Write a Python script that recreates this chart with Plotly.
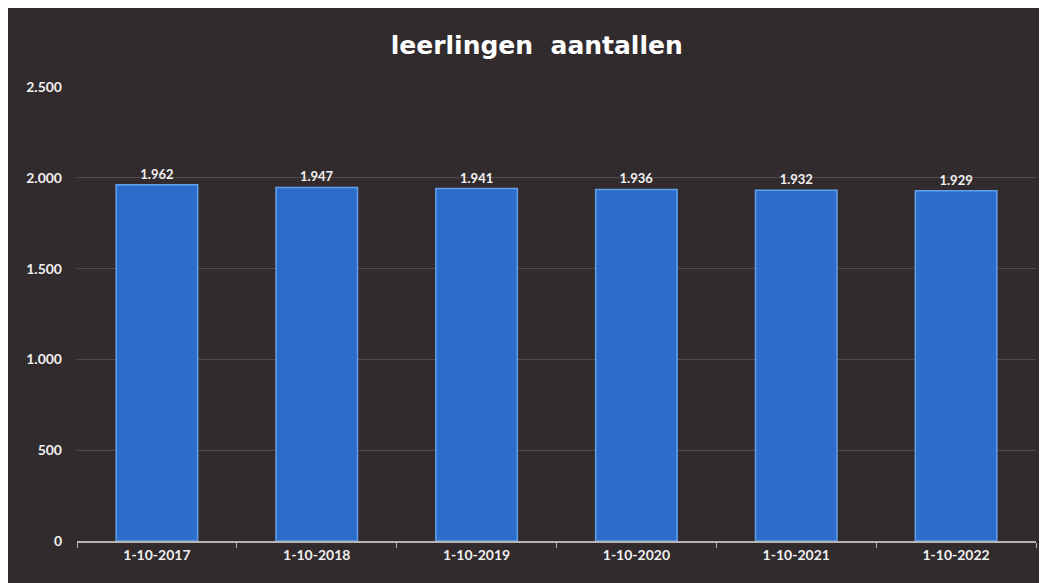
import plotly.graph_objects as go

# leerlingen per teldatum
dates = ['1-10-2017', '1-10-2018', '1-10-2019', '1-10-2020', '1-10-2021', '1-10-2022']
students = [1962, 1947, 1941, 1936, 1932, 1929]
y_ticks = [0, 500, 1000, 1500, 2000, 2500]
y_tick_labels = ['0', '500', '1.000', '1.500', '2.000', '2.500']
value_labels = ['1.962', '1.947', '1.941', '1.936', '1.932', '1.929']

# the page body adds an 8px offset, so margins are taken in figure pixels
W, H = 1047, 583
L, R, T, B = 69, 19, 79, 50

def px_x(p):
    return (p - L) / (W - L - R)

def px_y(p):
    return (H - B - p) / (H - T - B)

fig = go.Figure()

fig.add_trace(go.Bar(
    x=dates,
    y=students,
    text=value_labels,
    textposition='outside',
    textfont=dict(color='#f2f2f2', size=13, family='Lato', weight='bold'),
    cliponaxis=False,
    marker=dict(color='#2c6dcc', line=dict(color='#62a0ea', width=1.5)),
    width=0.51,
))

fig.update_layout(
    width=W, height=H,
    margin=dict(l=L, r=R, t=T, b=B),
    paper_bgcolor='white',
    plot_bgcolor='rgba(0,0,0,0)',
    showlegend=False,
    font=dict(family='Lato', color='#f0f0f0'),
    title=dict(
        text='<b>leerlingen  aantallen</b>',
        x=0.505, xanchor='center', y=1 - 37 / H, yanchor='middle',
        font=dict(size=25, color='white', family='DejaVu Sans'),
    ),
    shapes=[dict(
        type='rect', xref='paper', yref='paper', layer='below',
        x0=px_x(-2), x1=px_x(W + 5), y0=px_y(H + 5), y1=px_y(-1),
        fillcolor='#312b2e', line=dict(width=0),
    )],
)

fig.update_yaxes(
    range=[0, 2500],
    tickvals=y_ticks, ticktext=y_tick_labels,
    tickfont=dict(size=14, color='#f0f0f0', family='Lato', weight='bold'),
    ticklabelstandoff=14,
    gridcolor='rgba(200,190,190,0.22)', gridwidth=1,
    zeroline=False, showline=False,
)

fig.update_xaxes(
    tickfont=dict(size=14, color='#f0f0f0', family='Lato', weight='bold'),
    showline=True, linecolor='#b8b4b4', linewidth=1.5,
    ticks='outside', tickson='boundaries', ticklen=5, tickcolor='#b8b4b4',
    showgrid=False,
)

fig.write_html("out.html")
